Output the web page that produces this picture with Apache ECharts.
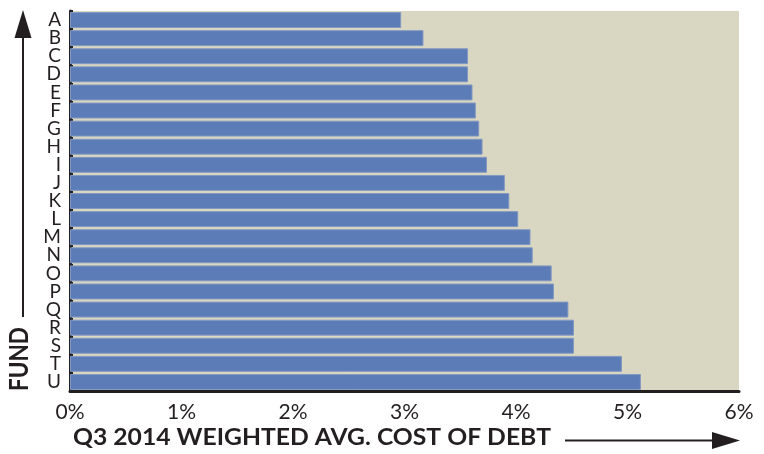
<!DOCTYPE html>
<html>
<head>
<meta charset="utf-8">
<script src="https://cdn.jsdelivr.net/npm/echarts@6/dist/echarts.min.js"></script>
<style>
  html, body { margin: 0; padding: 0; background: #ffffff; }
  #chart { width: 764px; height: 454px; }
</style>
</head>
<body>
<div id="chart"></div>
<script>
// Funds, top to bottom
const funds = ['A','B','C','D','E','F','G','H','I','J','K','L','M','N','O','P','Q','R','S','T','U'];
// Q3 2014 weighted average cost of debt, in percent
const costOfDebt = [2.97, 3.17, 3.57, 3.57, 3.61, 3.64, 3.67, 3.70, 3.74, 3.90, 3.94,
                    4.02, 4.13, 4.15, 4.32, 4.34, 4.47, 4.52, 4.52, 4.95, 5.12];
// Horizontal axis range
const axisMin = 0, axisMax = 6, axisStep = 1;

const xTitle = 'Q3 2014 WEIGHTED AVG. COST OF DEBT';
const yTitle = 'FUND';

const chart = echarts.init(document.getElementById('chart'), null, { renderer: 'canvas' });
const FONT = 'Lato';
const INK = '#231f20';

// horizontal stretch factor so a bold title spans the wanted length
function fitScale(text, size, wanted) {
  const ctx = document.createElement('canvas').getContext('2d');
  ctx.font = 'bold ' + size + 'px ' + FONT;
  return wanted / ctx.measureText(text).width;
}
const xTitleSize = 23, yTitleSize = 26;
const xTitleScale = fitScale(xTitle, xTitleSize, 478);
const yTitleScale = fitScale(yTitle, yTitleSize, 64);

chart.setOption({
  animation: false,
  backgroundColor: '#ffffff',
  grid: {
    left: 70, right: 25, top: 11, bottom: 63,
    show: true, backgroundColor: '#d9d6c2', borderWidth: 0
  },
  xAxis: {
    type: 'value',
    min: axisMin, max: axisMax, interval: axisStep,
    axisLine: { show: true, lineStyle: { color: INK, width: 3 } },
    axisTick: { show: false },
    splitLine: { show: false },
    axisLabel: {
      formatter: '{value}%', color: INK, fontFamily: FONT, fontSize: 21, margin: 11
    }
  },
  yAxis: {
    type: 'category',
    data: funds,
    inverse: true,
    axisLine: { show: true, lineStyle: { color: INK, width: 3 } },
    axisTick: { show: true, inside: true, length: 3, lineStyle: { color: INK, width: 2 } },
    axisLabel: {
      interval: 0, hideOverlap: false,
      color: INK, fontFamily: FONT, fontSize: 19, margin: 9,
      lineHeight: 19, padding: [9, 0, 0, 0]
    }
  },
  series: [{
    type: 'bar',
    data: costOfDebt,
    barCategoryGap: '12%',
    itemStyle: { color: '#5b7cb6', borderColor: '#8399c2', borderWidth: 1 }
  }],
  graphic: [
    // horizontal axis title and arrow
    {
      type: 'text', x: 73, y: 426, scaleX: xTitleScale,
      style: { text: xTitle, fontFamily: FONT, fontWeight: 'bold',
               fontSize: xTitleSize, fill: INK, verticalAlign: 'top' }
    },
    {
      type: 'line',
      shape: { x1: 565, y1: 440.5, x2: 715, y2: 440.5 },
      style: { stroke: INK, lineWidth: 2 }
    },
    {
      type: 'polygon',
      shape: { points: [[712, 432], [740, 440.5], [712, 449]] },
      style: { fill: INK }
    },
    // vertical axis title and arrow
    {
      type: 'text', x: 7, y: 391, rotation: Math.PI / 2, scaleX: yTitleScale,
      style: { text: yTitle, fontFamily: FONT, fontWeight: 'bold', fontSize: yTitleSize,
               fill: INK, verticalAlign: 'top', align: 'left' }
    },
    {
      type: 'line',
      shape: { x1: 23, y1: 317, x2: 23, y2: 36 },
      style: { stroke: INK, lineWidth: 2 }
    },
    {
      type: 'polygon',
      shape: { points: [[14.5, 38], [23, 10], [31.5, 38]] },
      style: { fill: INK }
    }
  ]
});
</script>
</body>
</html>
